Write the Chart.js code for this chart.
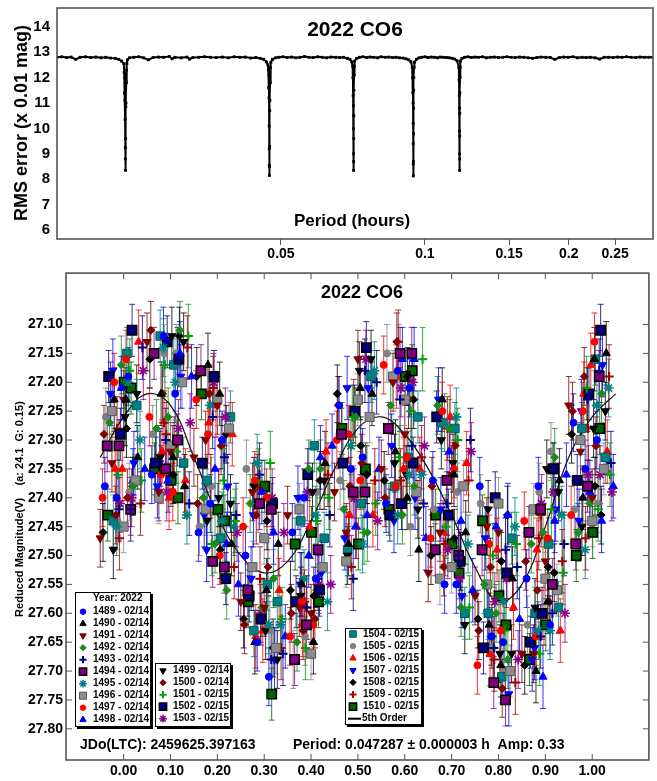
<!DOCTYPE html>
<html>
<head>
<meta charset="utf-8">
<script src="https://cdn.jsdelivr.net/npm/chart.js@4.4.0/dist/chart.umd.min.js"></script>
<style>
  body { margin: 0; background: #fff; }
  #wrap { position: relative; width: 657px; height: 781px; }
  #top { position: absolute; left: 0; top: 0; }
  #bottom { position: absolute; left: 0; top: 265px; }
</style>
</head>
<body>
<div id="wrap">
  <canvas id="top" width="657" height="265"></canvas>
  <canvas id="bottom" width="657" height="516"></canvas>
</div>
<script>
// ---- period scan (top) : [period h, rms x0.01 mag]
var rmsScan = [
  [0.0170,12.80],[0.0174,12.82],[0.0178,12.79],[0.0182,12.81],[0.0186,12.72],[0.0190,12.80],[0.0195,12.82],
  [0.0200,12.79],[0.0205,12.81],[0.0210,12.78],[0.0215,12.80],[0.0220,12.77],[0.0225,12.76],[0.0229,12.72],[0.0232,12.65],
  [0.02345,12.55],[0.02350,12.20],[0.02353,11.40],[0.02356,12.00],[0.02358,11.10],[0.02360,10.35],[0.02362,9.25],
  [0.02363,8.80],[0.02364,8.35],[0.02366,9.60],[0.02368,10.85],[0.02370,11.00],[0.02373,11.80],[0.02376,12.30],
  [0.02380,12.55],[0.02386,12.70],
  [0.0241,12.78],[0.0246,12.80],[0.0252,12.82],[0.0258,12.78],[0.0264,12.70],[0.0270,12.79],[0.0277,12.81],
  [0.0284,12.80],[0.0292,12.83],[0.0296,12.74],[0.0300,12.80],[0.0309,12.78],[0.0318,12.81],[0.0322,12.73],[0.0327,12.79],
  [0.0336,12.80],[0.0346,12.82],[0.0356,12.80],[0.0366,12.79],[0.0377,12.81],[0.0388,12.78],[0.0399,12.82],
  [0.0410,12.80],[0.0421,12.81],[0.0432,12.77],[0.0443,12.79],[0.0452,12.76],[0.0460,12.72],[0.0466,12.62],
  [0.04695,12.50],[0.04705,12.30],[0.04712,11.60],[0.04717,12.10],[0.04720,11.20],[0.04723,10.10],[0.04725,9.20],
  [0.04727,8.55],[0.04729,8.15],[0.04731,8.50],[0.04733,9.30],[0.04736,10.70],[0.04740,11.10],[0.04745,11.80],
  [0.04752,12.40],[0.04762,12.60],
  [0.0480,12.72],[0.0487,12.78],[0.0495,12.80],[0.0505,12.82],[0.0515,12.79],[0.0526,12.81],[0.0537,12.78],
  [0.0548,12.80],[0.0560,12.83],[0.0572,12.80],[0.0584,12.79],[0.0597,12.82],[0.0610,12.80],[0.0623,12.78],
  [0.0636,12.81],[0.0650,12.80],[0.0663,12.79],[0.0676,12.80],[0.0688,12.76],[0.0697,12.72],[0.0703,12.62],
  [0.07060,12.45],[0.07070,12.00],[0.07078,11.30],[0.07083,12.20],[0.07086,10.90],[0.07089,10.00],[0.07091,9.00],
  [0.07093,8.35],[0.07095,8.70],[0.07098,9.60],[0.07101,10.50],[0.07105,11.50],[0.07110,12.10],[0.07118,12.45],
  [0.07130,12.65],
  [0.0720,12.76],[0.0730,12.80],[0.0742,12.82],[0.0755,12.79],[0.0768,12.81],[0.0782,12.80],[0.0796,12.78],
  [0.0810,12.82],[0.0825,12.80],[0.0840,12.81],[0.0855,12.79],[0.0870,12.80],[0.0885,12.78],[0.0900,12.77],
  [0.0913,12.74],[0.0925,12.70],[0.0935,12.62],
  [0.09410,12.40],[0.09425,12.00],[0.09435,11.40],[0.09441,12.20],[0.09446,11.00],[0.09450,10.20],[0.09453,9.40],
  [0.09455,8.60],[0.09457,8.13],[0.09460,8.70],[0.09463,9.80],[0.09467,10.80],[0.09472,11.50],[0.09480,12.00],
  [0.09490,12.40],[0.09505,12.60],
  [0.0960,12.72],[0.0972,12.78],[0.0985,12.80],[0.1000,12.82],[0.1015,12.79],[0.1030,12.81],[0.1046,12.80],
  [0.1062,12.78],[0.1078,12.81],[0.1094,12.80],[0.1110,12.79],[0.1125,12.78],[0.1140,12.76],[0.1155,12.73],[0.1168,12.66],
  [0.11775,12.40],[0.11790,11.90],[0.11800,11.30],[0.11806,12.10],[0.11810,10.80],[0.11814,9.90],[0.11817,9.00],
  [0.11820,8.35],[0.11823,8.80],[0.11826,9.70],[0.11830,10.60],[0.11835,11.40],[0.11842,12.00],[0.11852,12.40],
  [0.11866,12.65],
  [0.1195,12.75],[0.1210,12.80],[0.1230,12.82],[0.1250,12.79],[0.1272,12.81],[0.1295,12.80],[0.1320,12.82],
  [0.1345,12.78],[0.1370,12.80],[0.1397,12.81],[0.1425,12.79],[0.1455,12.80],[0.1485,12.82],[0.1515,12.80],
  [0.1545,12.79],[0.1577,12.81],[0.1610,12.80],[0.1645,12.78],[0.1680,12.76],[0.1715,12.79],[0.1750,12.81],
  [0.1790,12.80],[0.1830,12.79],[0.1870,12.72],[0.1910,12.79],[0.1950,12.81],[0.1995,12.80],[0.2040,12.82],
  [0.2085,12.78],[0.2130,12.80],[0.2175,12.79],[0.2220,12.80],[0.2270,12.78],[0.2320,12.73],[0.2370,12.80],
  [0.2420,12.80],[0.2475,12.79],[0.2530,12.81],[0.2585,12.80],[0.2640,12.82],[0.2700,12.80],[0.2760,12.79],
  [0.2820,12.81],[0.2880,12.80],[0.2940,12.80],[0.3000,12.80]
];
var periodTicks = [0.05, 0.1, 0.15, 0.2, 0.25];
var periodLabels = ['0.05', '0.1', '0.15', '0.2', '0.25'];
var rmsTicks = [6, 7, 8, 9, 10, 11, 12, 13, 14];

// ---- lightcurve (bottom) : [phase, reduced mag]
var s1489 = [[-0.04,27.38],[0.01,27.19],[0.06,27.36],[0.11,27.22],[0.16,27.46],[0.21,27.30],[0.26,27.50],[0.31,27.71],[0.36,27.46],[0.41,27.54],[0.46,27.24],[0.51,27.33],[0.56,27.41],[0.61,27.21],[0.66,27.37],[0.71,27.55],[0.76,27.38],[0.81,27.65],[0.86,27.54],[0.91,27.62],[0.96,27.27],[1.01,27.30],
  [-0.015,27.40],[0.085,27.12],[0.185,27.41],[0.285,27.65],[0.385,27.40],[0.485,27.35],[0.585,27.18],[0.685,27.55],[0.785,27.64],[0.885,27.38],[0.985,27.35]];
var s1490 = [[-0.02,27.23],[0.03,27.33],[0.08,27.22],[0.13,27.38],[0.18,27.17],[0.23,27.48],[0.28,27.65],[0.33,27.48],[0.38,27.55],[0.43,27.34],[0.48,27.48],[0.53,27.22],[0.58,27.32],[0.63,27.49],[0.68,27.23],[0.73,27.46],[0.78,27.62],[0.83,27.54],[0.88,27.70],[0.93,27.37],[0.98,27.40],[1.03,27.15],
  [0.005,27.23],[0.105,27.33],[0.205,27.22],[0.305,27.56],[0.405,27.65],[0.505,27.21],[0.605,27.40],[0.705,27.36],[0.805,27.69],[0.905,27.58],[1.005,27.16]];
var s1491 = [[-0.05,27.47],[0.00,27.23],[0.05,27.13],[0.10,27.32],[0.15,27.33],[0.20,27.24],[0.25,27.58],[0.30,27.59],[0.35,27.43],[0.40,27.60],[0.45,27.39],[0.50,27.16],[0.55,27.35],[0.60,27.29],[0.65,27.53],[0.70,27.36],[0.75,27.57],[0.80,27.46],[0.85,27.67],[0.90,27.51],[0.95,27.24],[1.00,27.40],
  [-0.025,27.34],[0.075,27.39],[0.175,27.30],[0.275,27.39],[0.375,27.59],[0.475,27.46],[0.575,27.20],[0.675,27.46],[0.775,27.45],[0.875,27.67],[0.975,27.32]];
var s1492 = [[-0.03,27.27],[0.02,27.38],[0.07,27.28],[0.12,27.11],[0.17,27.40],[0.22,27.56],[0.27,27.41],[0.32,27.54],[0.37,27.65],[0.42,27.35],[0.47,27.42],[0.52,27.46],[0.57,27.24],[0.62,27.38],[0.67,27.24],[0.72,27.59],[0.77,27.55],[0.82,27.68],[0.87,27.48],[0.92,27.33],[0.97,27.46],[1.02,27.22],
  [-0.005,27.17],[0.095,27.26],[0.195,27.48],[0.295,27.59],[0.395,27.35],[0.495,27.26],[0.595,27.43],[0.695,27.28],[0.795,27.60],[0.895,27.46],[0.995,27.41]];
var s1493 = [[-0.01,27.42],[0.04,27.14],[0.09,27.30],[0.14,27.41],[0.19,27.26],[0.24,27.43],[0.29,27.36],[0.34,27.67],[0.39,27.59],[0.44,27.43],[0.49,27.54],[0.54,27.20],[0.59,27.23],[0.64,27.41],[0.69,27.41],[0.74,27.30],[0.79,27.66],[0.84,27.52],[0.89,27.64],[0.94,27.48],[0.99,27.23],[1.04,27.34],
  [0.015,27.42],[0.115,27.16],[0.215,27.33],[0.315,27.68],[0.415,27.54],[0.515,27.18],[0.615,27.31],[0.715,27.50],[0.815,27.49],[0.915,27.60],[1.015,27.18]];
var s1494 = [[-0.035,27.31],[0.015,27.42],[0.065,27.15],[0.115,27.30],[0.165,27.18],[0.215,27.52],[0.265,27.56],[0.315,27.42],[0.365,27.68],[0.415,27.49],[0.465,27.29],[0.515,27.39],[0.565,27.28],[0.615,27.15],[0.665,27.49],[0.715,27.50],[0.765,27.49],[0.815,27.75],[0.865,27.46],[0.915,27.55],[0.965,27.48],[1.015,27.19],
  [-0.01,27.31],[0.09,27.35],[0.19,27.51],[0.29,27.41],[0.39,27.62],[0.49,27.39],[0.59,27.15],[0.69,27.37],[0.79,27.72],[0.89,27.42],[0.99,27.38]];
var s1495 = [[-0.015,27.45],[0.035,27.30],[0.085,27.14],[0.135,27.43],[0.185,27.24],[0.235,27.45],[0.285,27.34],[0.335,27.62],[0.385,27.54],[0.435,27.58],[0.485,27.31],[0.535,27.18],[0.585,27.43],[0.635,27.36],[0.685,27.27],[0.735,27.48],[0.785,27.64],[0.835,27.45],[0.885,27.63],[0.935,27.43],[0.985,27.49],[1.035,27.21],
  [0.01,27.20],[0.11,27.20],[0.21,27.44],[0.31,27.62],[0.41,27.43],[0.51,27.48],[0.61,27.36],[0.71,27.26],[0.81,27.58],[0.91,27.63],[1.01,27.24]];
var s1496 = [[-0.025,27.25],[0.025,27.37],[0.075,27.40],[0.125,27.20],[0.175,27.42],[0.225,27.28],[0.275,27.52],[0.325,27.66],[0.375,27.42],[0.425,27.52],[0.475,27.51],[0.525,27.26],[0.575,27.19],[0.625,27.39],[0.675,27.54],[0.725,27.38],[0.775,27.55],[0.825,27.70],[0.875,27.42],[0.925,27.56],[0.975,27.30],[1.025,27.35],
  [0.00,27.45],[0.10,27.31],[0.20,27.23],[0.30,27.47],[0.40,27.67],[0.50,27.23],[0.60,27.23],[0.70,27.52],[0.80,27.41],[0.90,27.54],[1.00,27.44]];
var s1497 = [[-0.045,27.40],[0.005,27.16],[0.055,27.26],[0.105,27.39],[0.155,27.23],[0.205,27.50],[0.255,27.45],[0.305,27.40],[0.355,27.64],[0.405,27.62],[0.455,27.30],[0.505,27.37],[0.555,27.17],[0.605,27.33],[0.655,27.47],[0.705,27.35],[0.755,27.69],[0.805,27.63],[0.855,27.44],[0.905,27.47],[0.955,27.43],[1.005,27.13],
  [-0.02,27.20],[0.08,27.36],[0.18,27.29],[0.28,27.37],[0.38,27.58],[0.48,27.29],[0.58,27.38],[0.68,27.25],[0.78,27.48],[0.88,27.64],[0.98,27.25]];
var s1498 = [[-0.005,27.21],[0.045,27.35],[0.095,27.37],[0.145,27.19],[0.195,27.35],[0.245,27.55],[0.295,27.39],[0.345,27.64],[0.395,27.50],[0.445,27.31],[0.495,27.45],[0.545,27.35],[0.595,27.16],[0.645,27.47],[0.695,27.32],[0.745,27.56],[0.795,27.45],[0.845,27.61],[0.895,27.71],[0.945,27.36],[0.995,27.39],[1.045,27.38],
  [0.02,27.37],[0.12,27.15],[0.22,27.48],[0.32,27.46],[0.42,27.33],[0.52,27.43],[0.62,27.16],[0.72,27.44],[0.82,27.43],[0.92,27.44],[1.02,27.44]];
var s1499 = [[-0.022,27.49],[0.028,27.22],[0.078,27.33],[0.128,27.13],[0.178,27.44],[0.228,27.41],[0.278,27.38],[0.328,27.68],[0.378,27.57],[0.428,27.37],[0.478,27.50],[0.528,27.16],[0.578,27.34],[0.628,27.42],[0.678,27.30],[0.728,27.62],[0.778,27.42],[0.828,27.67],[0.878,27.59],[0.928,27.39],[0.978,27.45],[1.028,27.25],
  [0.003,27.26],[0.103,27.12],[0.203,27.40],[0.303,27.63],[0.403,27.39],[0.503,27.18],[0.603,27.36],[0.703,27.34],[0.803,27.67],[0.903,27.35],[1.003,27.28]];
var s1500 = [[-0.042,27.29],[0.008,27.40],[0.058,27.11],[0.108,27.31],[0.158,27.41],[0.208,27.31],[0.258,27.62],[0.308,27.52],[0.358,27.60],[0.408,27.61],[0.458,27.24],[0.508,27.34],[0.558,27.40],[0.608,27.23],[0.658,27.38],[0.708,27.31],[0.758,27.63],[0.808,27.73],[0.858,27.51],[0.908,27.58],[0.958,27.25],[1.008,27.31],
  [-0.017,27.43],[0.083,27.22],[0.183,27.22],[0.283,27.43],[0.383,27.63],[0.483,27.38],[0.583,27.13],[0.683,27.52],[0.783,27.52],[0.883,27.56],[0.983,27.19]];
var s1501 = [[-0.012,27.36],[0.038,27.37],[0.088,27.17],[0.138,27.12],[0.188,27.48],[0.238,27.44],[0.288,27.37],[0.338,27.61],[0.388,27.66],[0.438,27.40],[0.488,27.26],[0.538,27.41],[0.588,27.33],[0.638,27.16],[0.688,27.45],[0.738,27.59],[0.788,27.50],[0.838,27.48],[0.888,27.67],[0.938,27.53],[0.988,27.21],[1.038,27.36],
  [0.013,27.18],[0.113,27.32],[0.213,27.37],[0.313,27.34],[0.413,27.44],[0.513,27.46],[0.613,27.25],[0.713,27.30],[0.813,27.63],[0.913,27.42],[1.013,27.42]];
var s1502 = [[-0.032,27.19],[0.018,27.11],[0.068,27.34],[0.118,27.16],[0.168,27.34],[0.218,27.54],[0.268,27.57],[0.318,27.41],[0.368,27.58],[0.418,27.56],[0.468,27.34],[0.518,27.14],[0.568,27.43],[0.618,27.34],[0.668,27.26],[0.718,27.51],[0.768,27.66],[0.818,27.53],[0.868,27.65],[0.918,27.35],[0.968,27.37],[1.018,27.11],
  [-0.007,27.29],[0.093,27.13],[0.193,27.19],[0.293,27.61],[0.393,27.36],[0.493,27.25],[0.593,27.41],[0.693,27.43],[0.793,27.40],[0.893,27.60],[0.993,27.22]];
var s1503 = [[-0.008,27.41],[0.042,27.18],[0.092,27.39],[0.142,27.27],[0.192,27.20],[0.242,27.46],[0.292,27.60],[0.342,27.46],[0.392,27.39],[0.442,27.55],[0.492,27.40],[0.542,27.44],[0.592,27.21],[0.642,27.31],[0.692,27.49],[0.742,27.32],[0.792,27.58],[0.842,27.68],[0.892,27.41],[0.942,27.60],[0.992,27.36],[1.042,27.39],
  [0.017,27.40],[0.117,27.28],[0.217,27.26],[0.317,27.40],[0.417,27.55],[0.517,27.16],[0.617,27.20],[0.717,27.54],[0.817,27.54],[0.917,27.39],[1.017,27.36]];
var s1504 = [[-0.022,27.44],[0.028,27.24],[0.078,27.12],[0.128,27.34],[0.178,27.37],[0.228,27.26],[0.278,27.63],[0.328,27.58],[0.378,27.44],[0.428,27.47],[0.478,27.49],[0.528,27.19],[0.578,27.38],[0.628,27.26],[0.678,27.27],[0.728,27.60],[0.778,27.60],[0.828,27.47],[0.878,27.60],[0.928,27.59],[0.978,27.28],[1.028,27.33],
  [0.007,27.15],[0.107,27.17],[0.207,27.47],[0.307,27.55],[0.407,27.31],[0.507,27.41],[0.607,27.33],[0.707,27.28],[0.807,27.71],[0.907,27.48],[1.007,27.16]];
var s1505 = [[-0.038,27.26],[0.012,27.39],[0.062,27.29],[0.112,27.15],[0.162,27.45],[0.212,27.47],[0.262,27.35],[0.312,27.63],[0.362,27.68],[0.412,27.39],[0.462,27.37],[0.512,27.38],[0.562,27.15],[0.612,27.45],[0.662,27.42],[0.712,27.39],[0.762,27.41],[0.812,27.70],[0.862,27.62],[0.912,27.32],[0.962,27.42],[1.012,27.41],
  [-0.013,27.44],[0.087,27.15],[0.187,27.38],[0.287,27.41],[0.387,27.64],[0.487,27.40],[0.587,27.15],[0.687,27.45],[0.787,27.66],[0.887,27.39],[0.987,27.36]];
var s1506 = [[-0.018,27.35],[0.032,27.13],[0.082,27.32],[0.132,27.37],[0.182,27.27],[0.232,27.29],[0.282,27.64],[0.332,27.56],[0.382,27.62],[0.432,27.32],[0.482,27.43],[0.532,27.43],[0.582,27.19],[0.632,27.35],[0.682,27.46],[0.732,27.34],[0.782,27.67],[0.832,27.59],[0.882,27.49],[0.932,27.63],[0.982,27.22],[1.032,27.32],
  [-0.003,27.35],[0.097,27.40],[0.197,27.24],[0.297,27.63],[0.397,27.45],[0.497,27.45],[0.597,27.35],[0.697,27.26],[0.797,27.49],[0.897,27.60],[0.997,27.17]];
var s1507 = [[-0.028,27.22],[0.022,27.34],[0.072,27.38],[0.122,27.19],[0.172,27.43],[0.222,27.38],[0.272,27.54],[0.322,27.68],[0.372,27.40],[0.422,27.53],[0.472,27.47],[0.522,27.21],[0.572,27.31],[0.622,27.40],[0.672,27.23],[0.722,27.57],[0.772,27.47],[0.822,27.74],[0.872,27.68],[0.922,27.42],[0.972,27.44],[1.022,27.17],
  [-0.023,27.18],[0.077,27.34],[0.177,27.49],[0.277,27.43],[0.377,27.55],[0.477,27.21],[0.577,27.44],[0.677,27.42],[0.777,27.60],[0.877,27.66],[0.977,27.25]];
var s1508 = [[-0.044,27.46],[0.006,27.28],[0.056,27.16],[0.106,27.36],[0.156,27.19],[0.206,27.49],[0.256,27.61],[0.306,27.44],[0.356,27.56],[0.406,27.57],[0.456,27.22],[0.506,27.31],[0.556,27.37],[0.606,27.19],[0.656,27.50],[0.706,27.47],[0.756,27.61],[0.806,27.51],[0.856,27.69],[0.906,27.52],[0.956,27.29],[1.006,27.38],
  [0.019,27.38],[0.119,27.12],[0.219,27.29],[0.319,27.66],[0.419,27.37],[0.519,27.36],[0.619,27.23],[0.719,27.51],[0.819,27.43],[0.919,27.53],[1.019,27.43]];
var s1509 = [[-0.014,27.28],[0.036,27.41],[0.086,27.27],[0.136,27.14],[0.186,27.38],[0.236,27.52],[0.286,27.38],[0.336,27.66],[0.386,27.58],[0.436,27.36],[0.486,27.52],[0.536,27.37],[0.586,27.13],[0.636,27.33],[0.686,27.48],[0.736,27.37],[0.786,27.64],[0.836,27.72],[0.886,27.47],[0.936,27.51],[0.986,27.47],[1.036,27.19],
  [-0.009,27.47],[0.091,27.29],[0.191,27.21],[0.291,27.54],[0.391,27.59],[0.491,27.25],[0.591,27.37],[0.691,27.28],[0.791,27.68],[0.891,27.43],[0.991,27.28]];
var s1510 = [[-0.034,27.43],[0.016,27.21],[0.066,27.35],[0.116,27.40],[0.166,27.22],[0.216,27.44],[0.266,27.58],[0.316,27.74],[0.366,27.48],[0.416,27.58],[0.466,27.28],[0.516,27.35],[0.566,27.42],[0.616,27.18],[0.666,27.43],[0.716,27.53],[0.766,27.44],[0.816,27.62],[0.866,27.68],[0.916,27.35],[0.966,27.50],[1.016,27.28],
  [0.001,27.20],[0.101,27.37],[0.201,27.42],[0.301,27.38],[0.401,27.46],[0.501,27.48],[0.601,27.19],[0.701,27.48],[0.801,27.57],[0.901,27.62],[1.001,27.46]];
var sessionData = [s1489, s1490, s1491, s1492, s1493, s1494, s1495, s1496, s1497, s1498, s1499,
                   s1500, s1501, s1502, s1503, s1504, s1505, s1506, s1507, s1508, s1509, s1510];
var sessionLabels = ['1489 - 02/14', '1490 - 02/14', '1491 - 02/14', '1492 - 02/14', '1493 - 02/14',
                     '1494 - 02/14', '1495 - 02/14', '1496 - 02/14', '1497 - 02/14', '1498 - 02/14',
                     '1499 - 02/14', '1500 - 02/14', '1501 - 02/15', '1502 - 02/15', '1503 - 02/15',
                     '1504 - 02/15', '1505 - 02/15', '1506 - 02/15', '1507 - 02/15', '1508 - 02/15',
                     '1509 - 02/15', '1510 - 02/15'];
var sessionErr = [0.050, 0.055, 0.050, 0.050, 0.055, 0.045, 0.050, 0.045, 0.050, 0.055, 0.050,
                  0.050, 0.055, 0.045, 0.050, 0.045, 0.050, 0.055, 0.055, 0.050, 0.055, 0.045];
var fitPhase = [-0.05, 0.00, 0.05, 0.10, 0.15, 0.20, 0.25, 0.30, 0.35, 0.40, 0.45, 0.50,
                0.55, 0.60, 0.65, 0.70, 0.75, 0.80, 0.85, 0.90, 0.95, 1.00, 1.05];
var fitMag = [27.33, 27.26, 27.22, 27.24, 27.33, 27.43, 27.50, 27.53, 27.51, 27.44, 27.35, 27.28,
              27.26, 27.29, 27.35, 27.43, 27.52, 27.58, 27.55, 27.45, 27.33, 27.26, 27.22];
var phaseTicks = [0.0, 0.1, 0.2, 0.3, 0.4, 0.5, 0.6, 0.7, 0.8, 0.9, 1.0];
var magTicks = [27.10, 27.15, 27.20, 27.25, 27.30, 27.35, 27.40, 27.45, 27.50, 27.55, 27.60, 27.65, 27.70, 27.75, 27.80];

// marker looks, same order as sessions
var looks = [
  { c: '#0000ff', e: '#0000ff', s: 'circle', r: 3.5 },
  { c: '#000000', e: '#000000', s: 'triangle', r: 4.7 },
  { c: '#800000', e: '#800000', s: 'triangle', rot: 180, r: 4.7 },
  { c: '#1b8a1b', e: '#1b8a1b', s: 'rectRot', r: 4.0 },
  { c: '#000080', e: '#000080', s: 'cross', r: 4.6, bw: 2 },
  { c: '#800080', e: '#000000', s: 'rect', r: 6.6, bw: 1.5 },
  { c: '#008080', e: '#008080', s: 'star', r: 5, bw: 1.6 },
  { c: '#8c8c8c', e: '#5a5a5a', s: 'rect', r: 6.4, bw: 1 },
  { c: '#ff0000', e: '#ff0000', s: 'circle', r: 3.5 },
  { c: '#0000ff', e: '#0000ff', s: 'triangle', r: 4.7 },
  { c: '#000000', e: '#000000', s: 'triangle', rot: 180, r: 4.7 },
  { c: '#800000', e: '#800000', s: 'rectRot', r: 4.0 },
  { c: '#00a000', e: '#00a000', s: 'cross', r: 4.6, bw: 2 },
  { c: '#000080', e: '#000000', s: 'rect', r: 6.6, bw: 1.5 },
  { c: '#8b008b', e: '#8b008b', s: 'star', r: 5, bw: 1.6 },
  { c: '#008080', e: '#005c5c', s: 'rect', r: 6, bw: 1 },
  { c: '#808080', e: '#808080', s: 'circle', r: 3.5 },
  { c: '#ff0000', e: '#ff0000', s: 'triangle', r: 4.7 },
  { c: '#0000ff', e: '#0000ff', s: 'triangle', rot: 180, r: 4.7 },
  { c: '#000000', e: '#000000', s: 'rectRot', r: 4.0 },
  { c: '#a00000', e: '#a00000', s: 'cross', r: 4.6, bw: 2 },
  { c: '#006400', e: '#000000', s: 'rect', r: 6.6, bw: 1.5 }
];

var FONT = "'Liberation Sans', Arial, sans-serif";
Chart.defaults.font.family = FONT;
Chart.defaults.color = '#000';

function marker(ctx, lk, x, y, scale) {
  ctx.fillStyle = lk.c;
  ctx.strokeStyle = lk.e;
  ctx.lineWidth = lk.bw || 1;
  var o = { pointStyle: lk.s, rotation: lk.rot || 0, radius: lk.r * scale, borderWidth: lk.bw || 1 };
  if (Chart.helpers && Chart.helpers.drawPoint) {
    Chart.helpers.drawPoint(ctx, o, x, y);
  } else {
    ctx.beginPath(); ctx.arc(x, y, o.radius, 0, Math.PI * 2); ctx.fill();
  }
}

function noPadX(s, h) { s.height = h; s.paddingLeft = 0; s.paddingRight = 0; }
function noPadY(s, w) { s.width = w; s.paddingTop = 0; s.paddingBottom = 0; }

// frame + inward ticks
var frame = {
  id: 'frame',
  afterDatasetsDraw: function (chart, args, opts) {
    var ctx = chart.ctx, a = chart.chartArea;
    ctx.save();
    ctx.strokeStyle = '#555';
    ctx.lineWidth = 1.6;
    ctx.strokeRect(a.left, a.top, a.right - a.left, a.bottom - a.top);
    if (opts.inner) {
      ctx.lineWidth = 1;
      var xs = chart.scales.x, ys = chart.scales.y;
      ctx.beginPath();
      xs.ticks.forEach(function (t) {
        var px = xs.getPixelForValue(t.value);
        ctx.moveTo(px, a.top); ctx.lineTo(px, a.top + 6);
        ctx.moveTo(px, a.bottom); ctx.lineTo(px, a.bottom - 6);
      });
      ys.ticks.forEach(function (t) {
        var py = ys.getPixelForValue(t.value);
        ctx.moveTo(a.left, py); ctx.lineTo(a.left + 6, py);
        ctx.moveTo(a.right, py); ctx.lineTo(a.right - 6, py);
      });
      ctx.stroke();
    }
    ctx.restore();
  }
};

// free texts
var notes = {
  id: 'notes',
  afterDraw: function (chart, args, opts) {
    var ctx = chart.ctx;
    (opts.items || []).forEach(function (n) {
      ctx.save();
      ctx.font = n.font;
      ctx.fillStyle = '#000';
      ctx.textAlign = n.align || 'center';
      ctx.textBaseline = 'middle';
      ctx.translate(n.x, n.y);
      if (n.rotate) ctx.rotate(n.rotate);
      ctx.fillText(n.text, 0, 0);
      ctx.restore();
    });
  }
};

// error bars under the markers
var errorBars = {
  id: 'errorBars',
  beforeDatasetsDraw: function (chart) {
    var ctx = chart.ctx, xs = chart.scales.x, ys = chart.scales.y;
    ctx.save();
    ctx.lineWidth = 1;
    ctx.globalAlpha = 0.8;
    chart.data.datasets.forEach(function (ds) {
      if (ds.err == null) return;
      ctx.strokeStyle = ds.barColor;
      ctx.beginPath();
      ds.data.forEach(function (pt) {
        var px = xs.getPixelForValue(pt.x);
        var y1 = ys.getPixelForValue(pt.y - ds.err), y2 = ys.getPixelForValue(pt.y + ds.err);
        ctx.moveTo(px, y1); ctx.lineTo(px, y2);
        ctx.moveTo(px - 3, y1); ctx.lineTo(px + 3, y1);
        ctx.moveTo(px - 3, y2); ctx.lineTo(px + 3, y2);
      });
      ctx.stroke();
    });
    ctx.restore();
  }
};

// legend boxes
var boxes = {
  id: 'boxes',
  afterDraw: function (chart, args, opts) {
    var ctx = chart.ctx;
    opts.list.forEach(function (b) {
      ctx.save();
      ctx.fillStyle = '#000';
      ctx.fillRect(b.x + 2, b.y + 2, b.w, b.h);
      ctx.fillStyle = '#fff';
      ctx.fillRect(b.x, b.y, b.w, b.h);
      ctx.strokeStyle = '#000';
      ctx.lineWidth = 1;
      ctx.strokeRect(b.x + 0.5, b.y + 0.5, b.w - 1, b.h - 1);
      ctx.font = 'bold 10px ' + FONT;
      ctx.textBaseline = 'middle';
      ctx.textAlign = 'left';
      var y = b.first;
      if (b.header) {
        ctx.fillStyle = '#000';
        ctx.fillText(b.header, b.x + 18, b.y + 6);
      }
      b.rows.forEach(function (i) {
        if (i === 'fit') {
          ctx.strokeStyle = '#000'; ctx.lineWidth = 2;
          ctx.beginPath(); ctx.moveTo(b.x + 3, y); ctx.lineTo(b.x + 16, y); ctx.stroke();
          ctx.fillStyle = '#000';
          ctx.fillText('5th Order', b.x + 17, y);
        } else {
          ctx.save();
          marker(ctx, looks[i], b.x + 8, y, 0.78);
          ctx.restore();
          ctx.fillStyle = '#000';
          ctx.fillText(sessionLabels[i], b.x + 18, y);
        }
        y += b.step;
      });
      ctx.restore();
    });
  }
};

// ---------- top chart ----------
new Chart(document.getElementById('top'), {
  type: 'scatter',
  data: {
    datasets: [{
      data: rmsScan.map(function (p) { return { x: p[0], y: p[1] }; }),
      showLine: true,
      borderColor: '#000',
      borderWidth: 2,
      pointStyle: 'rect',
      pointRadius: 2,
      pointBackgroundColor: '#000',
      pointBorderColor: '#000',
      pointBorderWidth: 0
    }]
  },
  options: {
    responsive: false,
    animation: false,
    layout: { padding: { top: 8, right: 4, left: 0, bottom: 0 } },
    plugins: {
      legend: { display: false },
      tooltip: { enabled: false },
      frame: { inner: false },
      notes: {
        items: [
          { text: '2022 CO6', x: 355, y: 30, font: 'bold 21px ' + FONT },
          { text: 'Period (hours)', x: 352, y: 221, font: 'bold 17px ' + FONT },
          { text: 'RMS error (x 0.01 mag)', x: 22, y: 123, font: 'bold 18px ' + FONT, rotate: -Math.PI / 2 }
        ]
      }
    },
    scales: {
      x: {
        type: 'logarithmic',
        min: 0.017, max: 0.30,
        afterBuildTicks: function (s) { s.ticks = periodTicks.map(function (v) { return { value: v }; }); },
        afterFit: function (s) { noPadX(s, 26); },
        ticks: {
          autoSkip: false, maxRotation: 0, padding: 1,
          font: { size: 14, weight: 'bold' },
          callback: function (v) { var i = periodTicks.indexOf(v); return i < 0 ? '' : periodLabels[i]; }
        },
        grid: { display: true, drawOnChartArea: false, drawTicks: true, tickLength: 6, color: '#555' },
        border: { display: false }
      },
      y: {
        min: 5.65, max: 14.74,
        afterBuildTicks: function (s) { s.ticks = rmsTicks.map(function (v) { return { value: v }; }); },
        afterFit: function (s) { noPadY(s, 57); },
        ticks: { autoSkip: false, padding: 7, font: { size: 15, weight: 'bold' } },
        grid: { display: false, drawTicks: false },
        border: { display: false }
      }
    }
  },
  plugins: [frame, notes]
});

// ---------- bottom chart ----------
var lcSets = sessionData.map(function (arr, i) {
  var lk = looks[i];
  return {
    label: sessionLabels[i],
    data: arr.map(function (p) { return { x: p[0], y: p[1] }; }),
    err: sessionErr[i],
    barColor: lk.c,
    pointStyle: lk.s,
    pointRotation: lk.rot || 0,
    pointRadius: lk.r,
    pointBackgroundColor: lk.c,
    pointBorderColor: lk.e,
    pointBorderWidth: lk.bw || 1,
    order: i
  };
});
lcSets.push({
  label: '5th Order',
  data: fitPhase.map(function (p, i) { return { x: p, y: fitMag[i] }; }),
  showLine: true,
  tension: 0.4,
  borderColor: '#111',
  borderWidth: 1.2,
  pointRadius: 0,
  order: 100
});

new Chart(document.getElementById('bottom'), {
  type: 'scatter',
  data: { datasets: lcSets },
  options: {
    responsive: false,
    animation: false,
    layout: { padding: { top: 4, right: 4, left: 0, bottom: 0 } },
    plugins: {
      legend: { display: false },
      tooltip: { enabled: false },
      frame: { inner: true },
      notes: {
        items: [
          { text: '2022 CO6', x: 362, y: 28, font: 'bold 18px ' + FONT },
          { text: 'Reduced Magnitude(V)    (a: 24.1  G: 0.15)', x: 20, y: 244, font: 'bold 11px ' + FONT, rotate: -Math.PI / 2 },
          { text: 'JDo(LTC): 2459625.397163', x: 80, y: 480, align: 'left', font: 'bold 14px ' + FONT },
          { text: 'Period: 0.047287 \u00b1 0.000003 h  Amp: 0.33', x: 293, y: 480, align: 'left', font: 'bold 14px ' + FONT }
        ]
      },
      boxes: {
        list: [
          { x: 75, y: 327, w: 76, h: 135, header: 'Year: 2022', first: 346.7, step: 12, rows: [0, 1, 2, 3, 4, 5, 6, 7, 8, 9] },
          { x: 155, y: 398, w: 76, h: 64, first: 405.7, step: 12, rows: [10, 11, 12, 13, 14] },
          { x: 345, y: 363, w: 77, h: 97, first: 369, step: 12.1, rows: [15, 16, 17, 18, 19, 20, 21, 'fit'] }
        ]
      }
    },
    scales: {
      x: {
        min: -0.123, max: 1.121,
        afterBuildTicks: function (s) { s.ticks = phaseTicks.map(function (v) { return { value: v }; }); },
        afterFit: function (s) { noPadX(s, 21); },
        ticks: { autoSkip: false, maxRotation: 0, padding: 3, font: { size: 14, weight: 'bold' },
                 callback: function (v) { return Number(v).toFixed(2); } },
        grid: { display: false, drawTicks: false },
        border: { display: false }
      },
      y: {
        reverse: true,
        min: 27.011, max: 27.854,
        afterBuildTicks: function (s) { s.ticks = magTicks.map(function (v) { return { value: v }; }); },
        afterFit: function (s) { noPadY(s, 66); },
        ticks: { autoSkip: false, padding: 3, font: { size: 14, weight: 'bold' },
                 callback: function (v) { return Number(v).toFixed(2); } },
        grid: { display: false, drawTicks: false },
        border: { display: false }
      }
    }
  },
  plugins: [errorBars, frame, notes, boxes]
});
</script>
</body>
</html>
